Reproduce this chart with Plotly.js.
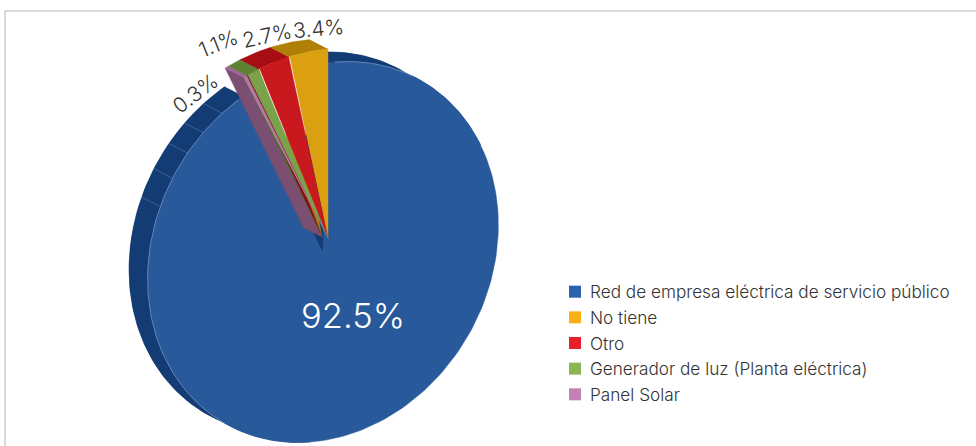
<!DOCTYPE html>
<html><head><meta charset="utf-8">
<script src="https://cdn.plot.ly/plotly-3.0.1.min.js"></script>
<style>html,body{margin:0;padding:0;background:#fff;overflow:hidden}</style>
</head><body><div id="chart" style="width:976px;height:446px"></div>
<script>
// --- data, legend order ---
const categories = ["Red de empresa eléctrica de servicio público","No tiene","Otro","Generador de luz (Planta eléctrica)","Panel Solar"];
const shares = [92.5,3.4,2.7,1.1,0.3];
const legendColors = ["#2a62ad","#fbb116","#e81f2a","#8cb553","#c382b6"];
const faceColors = ["#28599b","#dba011","#c9191f","#7aa24a","#b07aa8"];
const rimColors  = ["#133c74","#b07f07","#a70e14","#5f8136","#a0689a"];
const wallColors = ["#133c74","#a37a10","#8c0a0e","#4f6e2d","#7a4f72"];
const labelAngles = [0,-5,-12,-22,-37];
const rimTicks = [-39,-47,-54.5,-63,-72];

// --- pseudo-3D projection (axes are in page pixels) ---
const FONT = 'Inter, "Liberation Sans", Arial, sans-serif';
const OFF = {x:-18.5,y:-9.5};
const rad = d => d*Math.PI/180;
const BIG = {cx:323,cy:252,rx:175,ry:190,sx:12,sy:-14};
const SMALL = {cx:328,cy:238,rx:186,ry:189,sx:0,sy:-17.6};
const pt = (g,t)=>({x:g.cx+g.rx*Math.sin(rad(t))+g.sx*Math.cos(rad(t)), y:g.cy-g.ry*Math.cos(rad(t))+g.sy*Math.sin(rad(t))});
const arc = (g,a,b,n=90)=>Array.from({length:n+1},(_,i)=>pt(g,a+(b-a)*i/n));
const shift = p=>({x:p.x+OFF.x,y:p.y+OFF.y});
const poly = (pts,color)=>({type:'scatter',mode:'lines',x:pts.map(p=>p.x),y:pts.map(p=>p.y),fill:'toself',fillcolor:color,
  line:{width:0.4,color:color},hoverinfo:'skip',showlegend:false});
const seg = (pts,color,w)=>({type:'scatter',mode:'lines',x:pts.map(p=>p?p.x:null),y:pts.map(p=>p?p.y:null),
  line:{width:w,color:color},hoverinfo:'skip',showlegend:false});

const traces = [];
// big slice: extruded body, then face
const bigStart = -3, bigEnd = shares[0]*3.6-4;
const bigArc = arc(BIG,bigStart,bigEnd,220);
const c0 = {x:BIG.cx,y:BIG.cy};
traces.push(poly([c0,...bigArc].map(shift),rimColors[0]));
traces.push(poly([c0,pt(BIG,bigStart),shift(pt(BIG,bigStart)),shift(c0)],wallColors[0]));
traces.push(poly([...arc(BIG,bigStart,60,60),...arc(BIG,60,bigStart,60).map(shift)],rimColors[0]));
traces.push(poly([...arc(BIG,180,bigEnd,120),...arc(BIG,bigEnd,180,120).map(shift)],rimColors[0]));
// rim tick lines
const tickPts=[]; rimTicks.forEach(t=>{const p=pt(BIG,t);tickPts.push(p,shift(p),null);});
traces.push(seg(tickPts,"rgba(130,160,200,0.55)",0.7));
traces.push(poly([c0,...bigArc],faceColors[0]));
traces.push(seg(arc(BIG,-33,-150,80),"rgba(150,175,210,0.7)",0.8));
traces.push(seg(arc(BIG,0,27,30),"rgba(170,190,220,0.6)",0.8));

// small slices fan leftwards from the top
let acc=0; const wedges=[];
for(let i=1;i<shares.length;i++){const a=-acc*3.6; acc+=shares[i]; wedges.push({i,a,b:-acc*3.6});}
const apex={x:SMALL.cx,y:SMALL.cy};
const wallApex={x:SMALL.cx-6,y:SMALL.cy-1};
wedges.forEach(w=>{
  const o=pt(SMALL,w.b);
  traces.push(poly([wallApex,o,shift(o),shift(wallApex)],wallColors[w.i]));
});
wedges.forEach(w=>{
  const ar=arc(SMALL,w.a,w.b,12);
  traces.push(poly([...ar,...ar.slice().reverse().map(shift)],rimColors[w.i]));
});
wedges.forEach(w=>{
  const pad=w.i===4?0:0.35;
  traces.push(poly([apex,...arc(SMALL,w.a,w.b+pad,12)],faceColors[w.i]));
});
// legend
categories.forEach((c,i)=>traces.push({type:'scatter',mode:'markers',x:[null],y:[null],name:c,legendgroup:'g'+i,
  marker:{symbol:'square',size:12,color:legendColors[i],line:{width:0}},hoverinfo:'skip'}));

const fmt=v=>v.toFixed(1)+'%';
const labelPos=[[353,315],[318,28],[267,35],[218,43],[195,93]];
const annotations=shares.map((v,i)=>({xref:'x',yref:'y',x:labelPos[i][0],y:labelPos[i][1],text:fmt(v),showarrow:false,
  textangle:labelAngles[i],font:{family:FONT,weight:300,size:i?21:34.5,color:i?'#333':'#fff'}}));

const layout={width:976,height:446,margin:{l:0,r:0,t:0,b:0},paper_bgcolor:'#fff',plot_bgcolor:'#fff',
  xaxis:{range:[0,976],visible:false,fixedrange:true},
  yaxis:{range:[446,0],visible:false,fixedrange:true},
  showlegend:true,
  legend:{x:550/976,y:1-274/446,xanchor:'left',yanchor:'top',tracegroupgap:0.3,bgcolor:'rgba(0,0,0,0)',
    font:{family:FONT,weight:300,size:17.2,color:'#333'}},
  annotations,
  shapes:[{type:'line',xref:'x',yref:'y',x0:5,x1:976,y0:11,y1:11,line:{color:'#b3b3b3',width:1}},
          {type:'line',xref:'x',yref:'y',x0:5,x1:5,y0:11,y1:446,line:{color:'#b3b3b3',width:1}}]};
Plotly.newPlot('chart',traces,layout,{displayModeBar:false,staticPlot:true}).then(()=>{
  document.querySelectorAll('.legend .legendsymbols').forEach(n=>n.setAttribute('transform','translate(5,0)'));
});
</script></body></html>
